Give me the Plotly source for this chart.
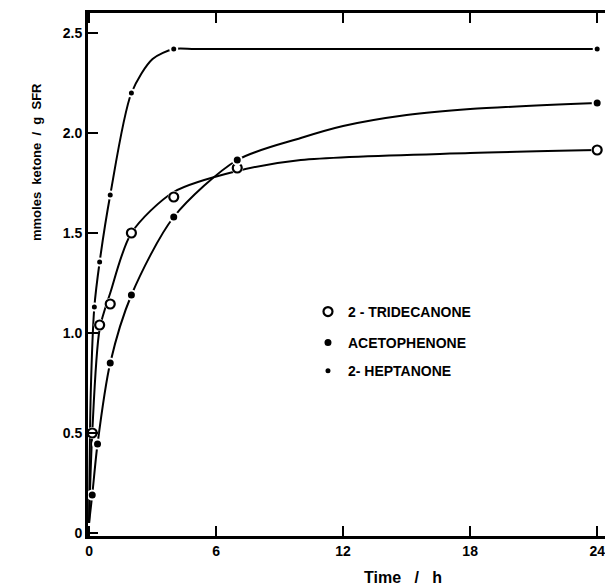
import plotly.graph_objects as go

# ---- data ----
names = ["2 - TRIDECANONE", "ACETOPHENONE", "2- HEPTANONE"]

# measured points
trid_t = [0.15, 0.5, 1, 2, 4, 7, 24]
trid_y = [0.50, 1.04, 1.145, 1.50, 1.68, 1.825, 1.915]

acet_t = [0.15, 0.4, 1, 2, 4, 7, 24]
acet_y = [0.19, 0.445, 0.85, 1.19, 1.58, 1.865, 2.15]

hept_t = [0.25, 0.5, 1, 2, 4, 24]
hept_y = [1.13, 1.355, 1.69, 2.20, 2.42, 2.42]

# smooth curves as drawn in the figure
trid_ct = [0, 0.15, 0.5, 1, 2, 4, 7, 10, 18, 24]
trid_cy = [0.05, 0.50, 1.02, 1.20, 1.50, 1.705, 1.81, 1.865, 1.90, 1.915]

acet_ct = [0, 0.15, 0.4, 1, 2, 4, 7, 10, 12, 15, 18, 24]
acet_cy = [0.05, 0.19, 0.445, 0.85, 1.19, 1.58, 1.865, 1.975, 2.035, 2.09, 2.12, 2.15]

hept_ct = [0, 0.08, 0.25, 0.5, 1, 2, 3, 4, 5, 8, 24]
hept_cy = [0.05, 0.70, 1.13, 1.355, 1.69, 2.20, 2.37, 2.42, 2.42, 2.42, 2.42]

x_ticks = [0, 6, 12, 18, 24]
y_ticks = [0, 0.5, 1.0, 1.5, 2.0, 2.5]
y_ticktext = ["0", "0.5", "1.0", "1.5", "2.0", "2.5"]

FONT = "Liberation Sans, Arial, sans-serif"

fig = go.Figure()

curves = [(trid_ct, trid_cy), (acet_ct, acet_cy), (hept_ct, hept_cy)]
for ct, cy in curves:
    fig.add_trace(go.Scatter(x=ct, y=cy, mode="lines",
                             line=dict(color="black", width=2, shape="spline", smoothing=0.8),
                             showlegend=False, hoverinfo="skip"))

markers = [
    (trid_t, trid_y, dict(symbol="circle-open", size=9, color="black", line=dict(width=2.2, color="black"))),
    (acet_t, acet_y, dict(symbol="circle", size=9, color="black", line=dict(width=2, color="white"))),
    (hept_t, hept_y, dict(symbol="circle", size=7, color="black", line=dict(width=2, color="white"))),
]
legend_ids = ["legend", "legend2", "legend3"]
for (t, y, mk), nm, lg in zip(markers, names, legend_ids):
    if mk["symbol"] == "circle-open":
        # white backing to break the line around open circles
        fig.add_trace(go.Scatter(x=t, y=y, mode="markers",
                                 marker=dict(symbol="circle", size=12, color="white"),
                                 showlegend=False, hoverinfo="skip"))
    fig.add_trace(go.Scatter(x=t, y=y, mode="markers", marker=mk,
                             name="<b>" + nm + "</b>", legend=lg))

leg_common = dict(xanchor="left", yanchor="top", bgcolor="rgba(0,0,0,0)",
                  font=dict(size=14, family=FONT))

fig.update_layout(
    width=605, height=585,
    margin=dict(l=88, r=0, t=13, b=49),
    paper_bgcolor="white", plot_bgcolor="white",
    font=dict(family=FONT, size=14, color="black"),
    showlegend=True,
    legend=dict(x=0.4255, y=0.459, **leg_common),
    legend2=dict(x=0.4255, y=0.3996, **leg_common),
    legend3=dict(x=0.4255, y=0.346, **leg_common),
    xaxis=dict(range=[-0.05, 24.37], tickvals=x_ticks,
               ticktext=["<b>%d</b>" % v for v in x_ticks],
               ticks="inside", ticklen=10, tickwidth=2, tickcolor="black",
               showline=True, linewidth=3, linecolor="black", mirror="ticks",
               showgrid=False, zeroline=False, tickfont=dict(size=14),
               ticklabeloverflow="allow"),
    yaxis=dict(range=[-0.015, 2.6], tickvals=y_ticks,
               ticktext=["<b>%s</b>" % s for s in y_ticktext],
               ticks="inside", ticklen=10, tickwidth=2, tickcolor="black",
               showline=True, linewidth=3, linecolor="black",
               showgrid=False, zeroline=False, tickfont=dict(size=14)),
)

fig.add_annotation(text="<b>Time   /   h</b>", x=403, y=577,
                   showarrow=False, font=dict(size=16))
fig.add_annotation(text="<b>mmoles  ketone  /  g  SFR</b>", x=36, y=162, textangle=-90,
                   showarrow=False, font=dict(size=13))

# convert annotation pixel positions to paper coords
W, H = 605, 585
L, R, T, B = 88, 0, 13, 49
pw, ph = W - L - R, H - T - B
for a in fig.layout.annotations:
    a.x = (a.x - L) / pw
    a.y = (H - B - a.y) / ph
    a.xref = "paper"
    a.yref = "paper"
    a.xanchor = "center"
    a.yanchor = "middle"

fig.write_html("out.html")
